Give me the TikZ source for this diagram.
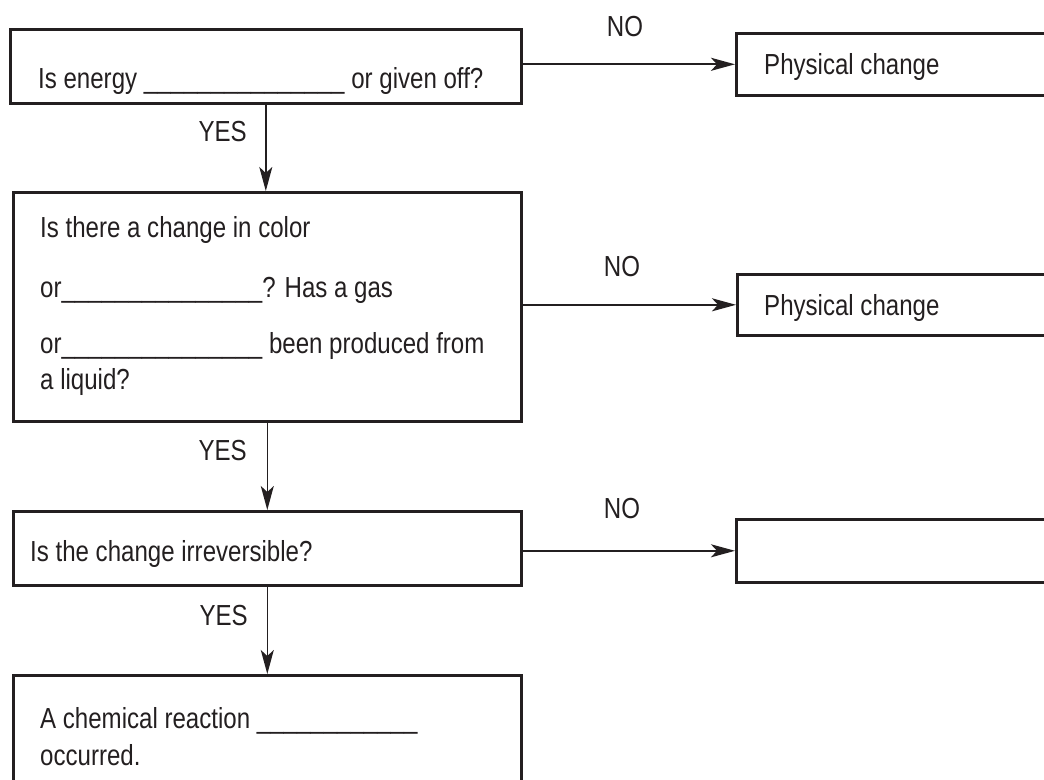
\documentclass[tikz,border=0pt]{standalone}
\usepackage{fontspec}
\setmainfont[FakeStretch=0.83]{Liberation Sans}
\usetikzlibrary{arrows.meta}
\definecolor{ink}{HTML}{231F20}
\begin{document}
\begin{tikzpicture}[x=1pt,y=-1pt,
  box/.style={draw=ink, line width=2.6pt, rectangle, inner sep=0pt, anchor=north west},
  txt/.style={anchor=base west, inner sep=0pt, text=ink, font=\fontsize{29}{34}\selectfont},
  lbl/.style={inner sep=0pt, text=ink, font=\fontsize{29}{34}\selectfont},
  harr/.style={draw=ink, line width=2.2pt, -{Stealth[length=24pt,width=13pt,inset=6pt]}},
  varr/.style={draw=ink, line width=1.4pt, -{Stealth[length=24pt,width=13pt,inset=6pt]}}]
\useasboundingbox (0,0) rectangle (1044,779);
\clip (0,0) rectangle (1044,779);
% question / result boxes
\node[box, minimum width=511pt, minimum height=74pt] (b1) at (9,28) {};
\node[box, minimum width=508pt, minimum height=229pt] (b2) at (12,191) {};
\node[box, minimum width=508pt, minimum height=74pt] (b3) at (12,510) {};
\node[box, minimum width=508pt, minimum height=140pt] (b4) at (12,674) {};
\node[box, minimum width=330pt, minimum height=62pt] (r1) at (735,32) {};
\node[box, minimum width=330pt, minimum height=61pt] (r2) at (736,273) {};
\node[box, minimum width=330pt, minimum height=63pt] (r3) at (735,518) {};
% texts
\node[txt] (t1) at (38,88) {Is energy \_\_\_\_\_\_\_\_\_\_\_\_\_\_\_ or given off?};
\node[txt] (t2a) at (40,237) {Is there a change in color};
\node[txt] (t2b) at (40,297) {or\_\_\_\_\_\_\_\_\_\_\_\_\_\_\_? Has a gas};
\node[txt] (t2c) at (40,353) {or\_\_\_\_\_\_\_\_\_\_\_\_\_\_\_ been produced from};
\node[txt] (t2d) at (40,389) {a liquid?};
\node[txt] (t3) at (30,561) {Is the change irreversible?};
\node[txt] (t4a) at (40,728) {A chemical reaction \_\_\_\_\_\_\_\_\_\_\_\_};
\node[txt] (t4b) at (40,765) {occurred.};
\node[txt] (tr1) at (764,74) {Physical change};
\node[txt] (tr2) at (764,315) {Physical change};
% connectors
\draw[harr] (r1.west -| b1.east) -- (r1.west);
\draw[harr] (r2.west -| b2.east) -- (r2.west);
\draw[harr] (r3.west -| b3.east) -- (r3.west);
\draw[varr] (b1.south) -- (b1.south |- b2.north);
\draw[varr] (b2.south) -- (b2.south |- b3.north);
\draw[varr] (b3.south) -- (b3.south |- b4.north);
% labels
\node[lbl, anchor=east] (y1) at (247,132) {YES};
\node[lbl, anchor=east] (y2) at (247,451) {YES};
\node[lbl, anchor=east] (y3) at (248,616) {YES};
\node[lbl] (n1) at (625,27) {NO};
\node[lbl] (n2) at (622,267) {NO};
\node[lbl] (n3) at (622,509) {NO};
\end{tikzpicture}
\end{document}
